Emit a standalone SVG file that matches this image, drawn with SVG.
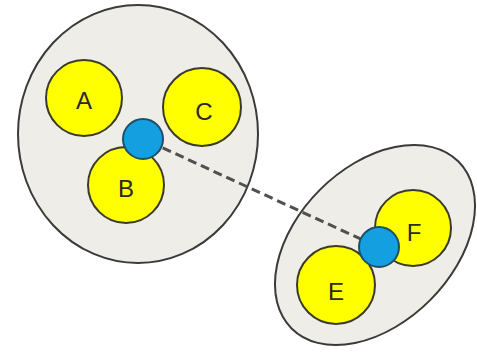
<svg xmlns="http://www.w3.org/2000/svg" width="477" height="353" viewBox="0 0 477 353">
<style>
.grp{fill:#eeede7;stroke:#3a3a3a;stroke-width:2}
.yel{fill:#ffff00;stroke:#3a3a2a;stroke-width:2}
.blu{fill:#139fe0;stroke:#1f4f66;stroke-width:2}
.lbl{font-family:"Liberation Sans",Arial,sans-serif;font-size:24px;fill:#2a2a2a;text-anchor:middle;dominant-baseline:central}
.con{stroke:#505050;stroke-width:3;stroke-dasharray:9,5;fill:none}
</style>
<rect width="477" height="353" fill="#ffffff"/>
<g id="group1"><ellipse class="grp" cx="138" cy="134" rx="120" ry="129"/></g>
<g id="group2"><ellipse class="grp" cx="375" cy="245" rx="118" ry="78" transform="rotate(-45 375 245)"/></g>
<g id="connectors"><line class="con" x1="150" y1="142" x2="378" y2="247"/></g>
<g id="A"><circle class="yel" cx="84" cy="98" r="38"/><text class="lbl" x="84" y="100">A</text></g>
<g id="C"><circle class="yel" cx="202" cy="107" r="39"/><text class="lbl" x="204" y="111">C</text></g>
<g id="B"><circle class="yel" cx="126" cy="185" r="38"/><text class="lbl" x="126" y="188">B</text></g>
<g id="hub1"><circle class="blu" cx="143" cy="139" r="20"/></g>
<g id="F"><circle class="yel" cx="413" cy="228" r="38"/><text class="lbl" x="414" y="232">F</text></g>
<g id="E"><circle class="yel" cx="336" cy="285" r="39"/><text class="lbl" x="336" y="291">E</text></g>
<g id="hub2"><circle class="blu" cx="379" cy="247" r="20"/></g>
</svg>
